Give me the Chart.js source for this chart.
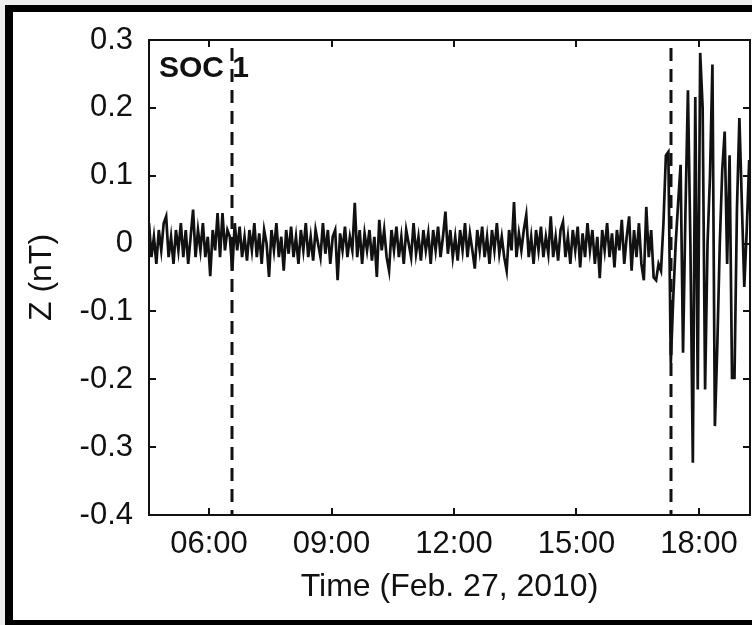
<!DOCTYPE html>
<html>
<head>
<meta charset="utf-8">
<title>SOC 1 - Z component</title>
<script src="https://cdn.jsdelivr.net/npm/chart.js@4"></script>
<style>
html, body { margin: 0; padding: 0; background: #eeeeee; }
#wrap { width: 752px; height: 625px; }
</style>
</head>
<body>
<div id="wrap"><canvas id="zChart" width="752" height="625"></canvas></div>
<script>
// Z record, one sample every 0.06 h starting at 04:32 (hours of Feb. 27, 2010)
const T_START = 4.53;
const T_STEP = 0.06;

// quiet part, before the arrival
const Z_QUIET = [
	0.03, -0.02, 0.01, -0.03, 0.02, -0.01, 0.03, 0.04, -0.02, 0.01,
	-0.03, 0.02, -0.01, 0.03, -0.02, 0.02, -0.03, 0.01, 0.05, -0.02,
	0.02, -0.01, 0.03, -0.02, 0.01, -0.048, 0.02, -0.01, 0.045, -0.02,
	0.045, -0.01, 0.02, 0.01, -0.04, 0.03, -0.01, 0.025, -0.02, 0.01,
	-0.025, 0.02, -0.01, 0.03, -0.02, 0.015, -0.03, 0.02, 0.0, -0.049,
	0.02, -0.01, 0.03, -0.02, 0.01, -0.04, 0.02, -0.015, 0.025, -0.02,
	0.01, -0.03, 0.02, -0.01, 0.03, -0.02, 0.01, -0.025, 0.02, 0.0,
	-0.02, 0.03, -0.015, 0.02, -0.03, 0.01, 0.02, -0.054, 0.015, -0.01,
	0.025, -0.02, 0.01, -0.01, 0.06, -0.02, 0.02, -0.03, 0.015, -0.01,
	0.02, -0.025, 0.01, -0.049, 0.035, -0.01, 0.02, -0.02, -0.04, 0.02,
	-0.01, 0.025, -0.02, 0.01, -0.03, 0.02, 0.0, -0.02, 0.03, -0.015,
	0.01, -0.025, 0.02, -0.01, 0.015, -0.03, 0.02, -0.01, 0.025, -0.02,
	0.01, 0.047, -0.015, 0.02, -0.02, 0.01, -0.025, 0.02, -0.01, 0.03,
	-0.02, 0.015, -0.01, -0.037, 0.02, -0.01, 0.025, -0.02, 0.01, -0.03,
	0.02, -0.01, 0.03, -0.015, 0.01, -0.02, -0.04, 0.02, -0.01, 0.061,
	-0.02, 0.015, -0.01, 0.02, 0.042, -0.02, 0.01, -0.03, 0.02, -0.01,
	0.025, -0.02, 0.01, -0.015, 0.04, -0.02, 0.01, -0.025, 0.02, 0.032,
	-0.02, 0.01, -0.03, 0.02, -0.01, 0.025, -0.035, 0.015, -0.02, 0.03,
	-0.01, 0.02, -0.03, 0.01, -0.051, 0.02, -0.01, 0.03, -0.02, 0.015,
	-0.035, 0.02, -0.01, 0.035, -0.03, 0.01, 0.04, -0.04, 0.02, -0.02,
	0.03, -0.03, -0.054, 0.054, -0.02, 0.02, -0.05
];

// disturbed part, from ~17:00 on
const Z_EVENT = [
	-0.054, -0.03, -0.04, 0.03, 0.13, 0.135, -0.176, -0.08, 0.0, 0.06,
	0.116, -0.161, 0.05, 0.226, 0.0, -0.323, 0.216, -0.215, 0.281, 0.2,
	-0.215, 0.0, 0.1, 0.264, -0.269, -0.149, 0.0, 0.108, 0.165, -0.03,
	0.13, -0.198, -0.198, 0.05, 0.185, 0.06, -0.064, 0.02, 0.123, -0.05
];

const X_MIN = 4.53, X_MAX = 19.25;
const X_TICKS = [6, 9, 12, 15, 18];
const Y_TICKS = [-0.4, -0.3, -0.2, -0.1, 0, 0.1, 0.2, 0.3];
const MARKERS = [6.56, 17.31];   // dashed event lines
const PANEL_LABEL = 'SOC 1';

const FONT = '"Liberation Sans", Arial, Helvetica, sans-serif';
const INK = '#111111';

let zValues = Z_QUIET.concat(Z_EVENT);
let points = zValues.map((v, i) => ({x: T_START + i * T_STEP, y: v}));

// helper, 6 -> "06:00"
const hhmm = (h) => String(Math.floor(h)).padStart(2, '0') + ':00';

// Frame, inward ticks, dashed markers and panel label
const framePlugin = {
	id: 'frame',
	beforeDraw: (chart) => {
		const ctx = chart.ctx;
		ctx.save();
		ctx.fillStyle = '#eeeeee';
		ctx.fillRect(0, 0, chart.width, chart.height);
		ctx.fillStyle = '#000000';
		ctx.fillRect(5, 5, chart.width, chart.height);
		ctx.fillStyle = '#ffffff';
		ctx.fillRect(13, 12, chart.width, 608);
		ctx.restore();
	},
	afterDatasetsDraw: (chart) => {
		const ctx = chart.ctx;
		const a = chart.chartArea;
		const xs = chart.scales.x, ys = chart.scales.y;
		ctx.save();

		// panel label
		ctx.fillStyle = INK;
		ctx.font = 'bold 30px ' + FONT;
		ctx.textBaseline = 'alphabetic';
		ctx.fillText(PANEL_LABEL, a.left + 10, a.top + 37);

		// event markers
		ctx.strokeStyle = INK;
		ctx.lineWidth = 3;
		ctx.setLineDash([13, 8]);
		MARKERS.forEach((t) => {
			let px = Math.round(xs.getPixelForValue(t));
			ctx.beginPath();
			ctx.moveTo(px, a.top + 8);
			ctx.lineTo(px, a.bottom);
			ctx.stroke();
		});
		ctx.setLineDash([]);

		// box
		ctx.lineWidth = 2;
		ctx.strokeRect(a.left, a.top, a.right - a.left, a.bottom - a.top);

		// inward ticks
		const len = 7;
		ctx.beginPath();
		X_TICKS.forEach((t) => {
			let px = Math.round(xs.getPixelForValue(t));
			ctx.moveTo(px, a.bottom);
			ctx.lineTo(px, a.bottom - len);
			ctx.moveTo(px, a.top);
			ctx.lineTo(px, a.top + len);
		});
		Y_TICKS.forEach((v) => {
			let py = Math.round(ys.getPixelForValue(v));
			ctx.moveTo(a.left, py);
			ctx.lineTo(a.left + len, py);
			ctx.moveTo(a.right, py);
			ctx.lineTo(a.right - len, py);
		});
		ctx.stroke();
		ctx.restore();
	}
};

new Chart(document.getElementById('zChart').getContext('2d'), {
	type: 'line',
	data: {
		datasets: [{
			data: points,
			borderColor: INK,
			borderWidth: 2.7,
			pointRadius: 0,
			tension: 0,
			fill: false
		}]
	},
	options: {
		responsive: false,
		animation: false,
		layout: {
			padding: {top: 40, right: 2, left: 0, bottom: 0}
		},
		scales: {
			x: {
				type: 'linear',
				min: X_MIN,
				max: X_MAX,
				afterBuildTicks: (s) => { s.ticks = X_TICKS.map((v) => ({value: v})); },
				afterFit: (s) => { s.height = 110; },
				grid: {display: false, drawTicks: false},
				border: {display: false},
				ticks: {
					padding: 11,
					color: INK,
					maxRotation: 0,
					font: {family: FONT, size: 31},
					callback: (v) => hhmm(v)
				},
				title: {
					display: true,
					text: 'Time (Feb. 27, 2010)',
					color: INK,
					font: {family: FONT, size: 32},
					padding: {top: 0, bottom: 19}
				}
			},
			y: {
				min: -0.4,
				max: 0.3,
				afterBuildTicks: (s) => { s.ticks = Y_TICKS.map((v) => ({value: v})); },
				afterFit: (s) => { s.width = 149; },
				grid: {display: false, drawTicks: false},
				border: {display: false},
				ticks: {
					padding: 16,
					color: INK,
					font: {family: FONT, size: 31},
					callback: (v) => String(Math.round(v * 10) / 10)
				},
				title: {
					display: true,
					text: 'Z (nT)',
					color: INK,
					font: {family: FONT, size: 32},
					padding: {top: 23, bottom: 0}
				}
			}
		},
		plugins: {
			legend: {display: false},
			tooltip: {enabled: false}
		}
	},
	plugins: [framePlugin]
});
</script>
</body>
</html>
